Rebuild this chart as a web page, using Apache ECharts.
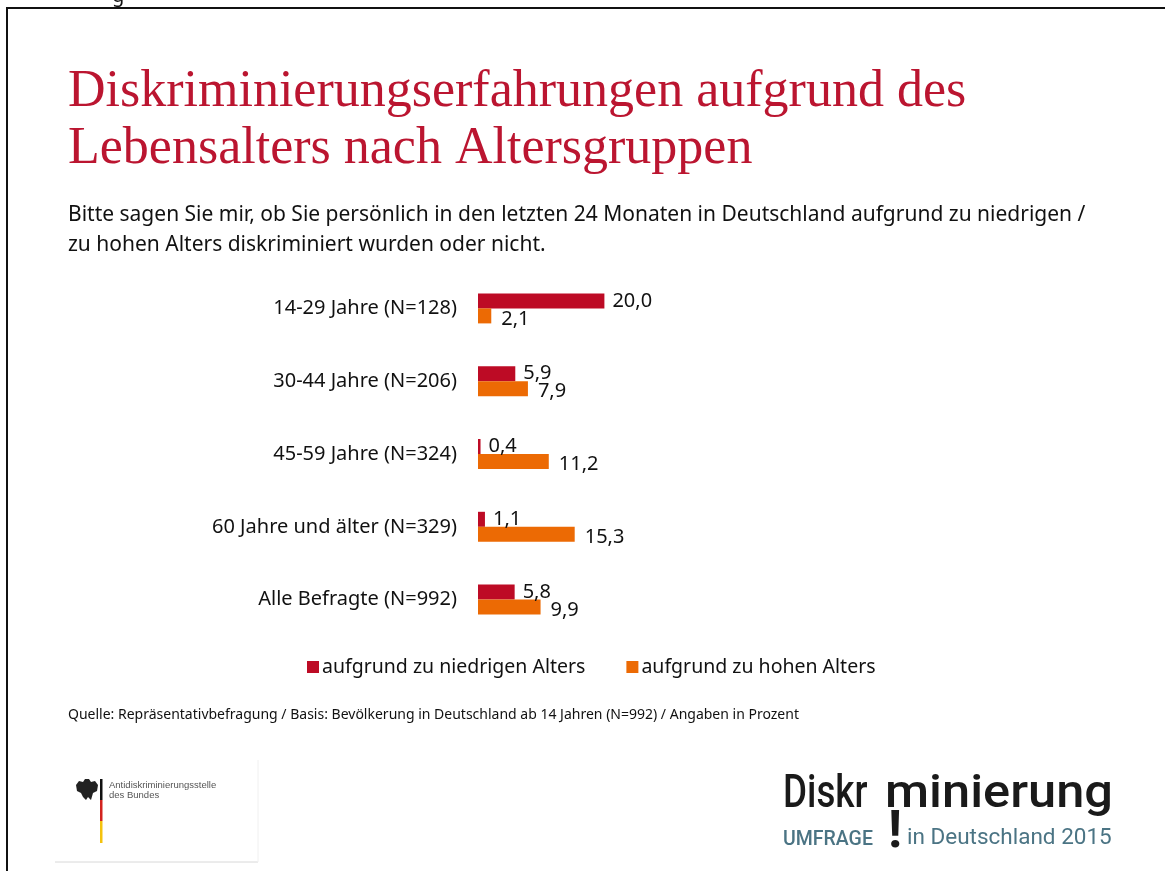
<!DOCTYPE html>
<html style="height: 100%">
  <head>
    <meta charset="UTF-8" />
    <title>Diskriminierungserfahrungen aufgrund des Lebensalters</title>
    <script src="https://cdn.jsdelivr.net/npm/echarts@6/dist/echarts.min.js"></script>
  </head>
  <body style="height: 100%; margin: 0; background: #fff">
    <div id="main" style="width: 1165px; height: 871px"></div>
    <script>
      const chart = echarts.init(document.getElementById('main'))

      const categories = [
        '14-29 Jahre (N=128)',
        '30-44 Jahre (N=206)',
        '45-59 Jahre (N=324)',
        '60 Jahre und älter (N=329)',
        'Alle Befragte (N=992)',
      ]
      const tooYoung = [20.0, 5.9, 0.4, 1.1, 5.8]
      const tooOld = [2.1, 7.9, 11.2, 15.3, 9.9]
      const seriesNames = ['aufgrund zu niedrigen Alters', 'aufgrund zu hohen Alters']

      const RED = '#bd0b25'
      const ORANGE = '#ec6a04'
      const SANS = '"Noto Sans", sans-serif'
      const LOGO = 'Roboto, sans-serif'

      // Zahlen mit Komma wie im Original
      const fmt = (p) => p.value.toFixed(1).replace('.', ',')

      const option = {
        animation: false,
        textStyle: { fontFamily: SANS },
        grid: { left: 478, right: 529, top: 272, bottom: 235 },
        legend: {
          left: 302,
          top: 652,
          itemWidth: 12,
          itemHeight: 12,
          itemGap: 41,
          icon: 'rect',
          textStyle: { fontSize: 19.5, color: '#111', fontFamily: SANS, padding: [0, 0, 0, -2] },
          data: seriesNames,
        },
        xAxis: {
          type: 'value',
          min: 0,
          max: 25,
          show: false,
        },
        yAxis: {
          type: 'category',
          inverse: true,
          data: categories,
          axisLine: { show: false },
          axisTick: { show: false },
          axisLabel: { fontSize: 20, color: '#111', margin: 21 },
        },
        series: [
          {
            name: seriesNames[0],
            type: 'bar',
            data: tooYoung,
            barWidth: 15,
            barGap: '0%',
            itemStyle: { color: RED },
            label: {
              show: true,
              position: 'right',
              distance: 8,
              formatter: fmt,
              fontSize: 20,
              color: '#111',
            },
          },
          {
            name: seriesNames[1],
            type: 'bar',
            data: tooOld,
            barWidth: 15,
            itemStyle: { color: ORANGE },
            label: {
              show: true,
              position: 'right',
              distance: 10,
              offset: [0, 3],
              formatter: fmt,
              fontSize: 20,
              color: '#111',
            },
          },
        ],
        graphic: [
          // Rahmen
          {
            type: 'rect',
            shape: { x: 7, y: 8, width: 1170, height: 880 },
            style: { fill: null, stroke: '#111', lineWidth: 2 },
          },
          {
            type: 'text',
            left: 112,
            top: -14,
            style: { text: 'g', fontSize: 20, fill: '#111', fontFamily: SANS },
          },
          // Titel
          {
            type: 'text',
            left: 68,
            top: 64,
            style: {
              text: 'Diskriminierungserfahrungen aufgrund des\nLebensalters nach Altersgruppen',
              fontFamily: '"Liberation Serif", serif',
              fontSize: 52,
              lineHeight: 57,
              fill: '#bb1530',
            },
          },
          {
            type: 'text',
            left: 68,
            top: 200,
            style: {
              text:
                'Bitte sagen Sie mir, ob Sie persönlich in den letzten 24 Monaten in Deutschland aufgrund zu niedrigen /\nzu hohen Alters diskriminiert wurden oder nicht.',
              fontFamily: SANS,
              fontSize: 21,
              lineHeight: 30,
              fill: '#111',
            },
          },
          {
            type: 'text',
            left: 68,
            top: 708,
            style: {
              text:
                'Quelle: Repräsentativbefragung / Basis: Bevölkerung in Deutschland ab 14 Jahren (N=992) / Angaben in Prozent',
              fontFamily: SANS,
              fontSize: 14,
              fill: '#111',
            },
          },
          // Logo links
          {
            type: 'line',
            shape: { x1: 55, y1: 862, x2: 258, y2: 862 },
            style: { stroke: '#d8d8d8', lineWidth: 1 },
          },
          {
            type: 'line',
            shape: { x1: 258, y1: 760, x2: 258, y2: 862 },
            style: { stroke: '#f0f0f0', lineWidth: 1 },
          },
          {
            type: 'polygon',
            shape: {
              points: [
                [76, 785], [79, 781], [83, 782], [85, 779], [89, 779], [91, 782], [95, 781], [98, 785],
                [97, 791], [93, 793], [91, 800], [88, 797], [86, 800], [83, 797], [81, 793], [77, 791],
              ],
            },
            style: { fill: '#222' },
          },
          { type: 'rect', shape: { x: 100, y: 779, width: 2.5, height: 21 }, style: { fill: '#111' } },
          { type: 'rect', shape: { x: 100, y: 800, width: 2.5, height: 21 }, style: { fill: '#d2231e' } },
          { type: 'rect', shape: { x: 100, y: 821, width: 2.5, height: 22 }, style: { fill: '#f4c20d' } },
          {
            type: 'text',
            left: 109,
            top: 780,
            style: {
              text: 'Antidiskriminierungsstelle\ndes Bundes',
              fontFamily: '"Liberation Sans", sans-serif',
              fontSize: 9.5,
              lineHeight: 10,
              fill: '#555',
            },
          },
          // Logo rechts: Wort geteilt, das "i" ist das Ausrufezeichen darunter
          {
            type: 'text',
            x: 783,
            y: 772,
            scaleX: 0.8,
            style: {
              text: 'Diskr',
              fontFamily: LOGO,
              fontSize: 46,
              fontWeight: 500,
              fill: '#1a1a1a',
              verticalAlign: 'top',
            },
          },
          {
            type: 'text',
            x: 885,
            y: 772,
            scaleX: 1.1,
            style: {
              text: 'minierung',
              fontFamily: LOGO,
              fontSize: 46,
              fontWeight: 500,
              fill: '#1a1a1a',
              verticalAlign: 'top',
            },
          },
          {
            type: 'text',
            left: 783,
            top: 830,
            style: {
              text: 'UMFRAGE',
              fontFamily: LOGO,
              fontSize: 19.5,
              fontWeight: 500,
              fill: '#4b7484',
            },
          },
          {
            type: 'text',
            left: 888,
            top: 808,
            style: {
              text: '!',
              fontFamily: LOGO,
              fontSize: 52,
              fontWeight: 'bold',
              fill: '#1a1a1a',
            },
          },
          {
            type: 'text',
            left: 907,
            top: 827,
            style: {
              text: 'in Deutschland 2015',
              fontFamily: LOGO,
              fontSize: 22.5,
              fill: '#4b7484',
            },
          },
        ],
      }

      chart.setOption(option)
    </script>
  </body>
</html>
